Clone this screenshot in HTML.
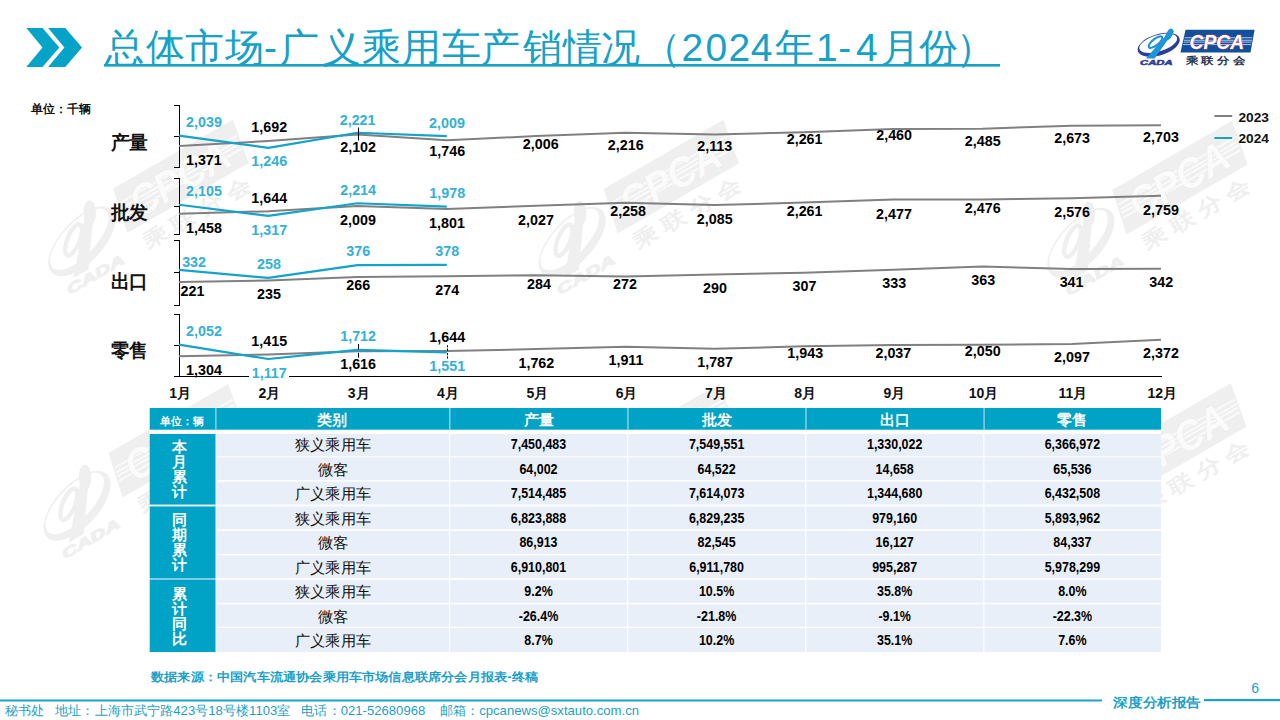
<!DOCTYPE html>
<html><head><meta charset="utf-8"><title>slide</title>
<style>
html,body{margin:0;padding:0;background:#fff;}
body{width:1280px;height:720px;overflow:hidden;position:relative;font-family:'Liberation Sans', sans-serif;}
svg{position:absolute;left:0;top:0;}
text{font-family:'Liberation Sans', sans-serif;}
</style></head><body>
<svg width="1280" height="720" viewBox="0 0 1280 720">

<g transform="translate(113.2,188.6) rotate(-30) scale(2.0)"><polygon points="0,0 69.1,0 65,22.8 -5,22.8" fill="#efefef"/><rect x="-0.94" y="7.50" width="67.81" height="0.9" fill="#fbfbfb"/><rect x="-1.49" y="10.00" width="67.91" height="0.9" fill="#fbfbfb"/><rect x="-1.90" y="11.85" width="67.99" height="0.9" fill="#fbfbfb"/><rect x="-2.45" y="14.35" width="68.08" height="0.9" fill="#fbfbfb"/><text x="4.1" y="19.4" font-size="21" font-style="italic" font-weight="bold" fill="#fbfbfb" stroke="#e6e6e6" stroke-width="0.35" paint-order="stroke" textLength="54.6" lengthAdjust="spacingAndGlyphs">CPCA</text><text x="0" y="34.6" font-size="10" font-weight="bold" fill="#efefef" textLength="60.4" lengthAdjust="spacingAndGlyphs" xml:space="preserve">乘 联 分 会</text><path fill-rule="evenodd" fill="#efefef" transform="translate(-26.8,15) rotate(-17)" d="M-21.8,0 A21.8,10.6 0 1,0 21.8,0 A21.8,10.6 0 1,0 -21.8,0 Z M-19.6,-1.6 A19.6,8.2 0 1,0 19.6,-1.6 A19.6,8.2 0 1,0 -19.6,-1.6 Z"/><polygon points="-39.5,28.8 -30.9,28.8 -11.8,1.8 -14.6,-0.4" fill="#efefef"/><ellipse cx="-30" cy="12.3" rx="8.3" ry="3.1" transform="rotate(-38 -30 12.3)" fill="none" stroke="#efefef" stroke-width="2.2"/><ellipse cx="-16.2" cy="4.6" rx="5.3" ry="2.2" transform="rotate(-62 -16.2 4.6)" fill="none" stroke="#efefef" stroke-width="1.8"/><text x="-45.4" y="35.1" font-size="6.8" font-weight="bold" font-style="italic" fill="#efefef" stroke="#efefef" stroke-width="0.5" textLength="32.5" lengthAdjust="spacingAndGlyphs">CADA</text></g>
<g transform="translate(603.6,188.9) rotate(-30) scale(2.0)"><polygon points="0,0 69.1,0 65,22.8 -5,22.8" fill="#efefef"/><rect x="-0.94" y="7.50" width="67.81" height="0.9" fill="#fbfbfb"/><rect x="-1.49" y="10.00" width="67.91" height="0.9" fill="#fbfbfb"/><rect x="-1.90" y="11.85" width="67.99" height="0.9" fill="#fbfbfb"/><rect x="-2.45" y="14.35" width="68.08" height="0.9" fill="#fbfbfb"/><text x="4.1" y="19.4" font-size="21" font-style="italic" font-weight="bold" fill="#fbfbfb" stroke="#e6e6e6" stroke-width="0.35" paint-order="stroke" textLength="54.6" lengthAdjust="spacingAndGlyphs">CPCA</text><text x="0" y="34.6" font-size="10" font-weight="bold" fill="#efefef" textLength="60.4" lengthAdjust="spacingAndGlyphs" xml:space="preserve">乘 联 分 会</text><path fill-rule="evenodd" fill="#efefef" transform="translate(-26.8,15) rotate(-17)" d="M-21.8,0 A21.8,10.6 0 1,0 21.8,0 A21.8,10.6 0 1,0 -21.8,0 Z M-19.6,-1.6 A19.6,8.2 0 1,0 19.6,-1.6 A19.6,8.2 0 1,0 -19.6,-1.6 Z"/><polygon points="-39.5,28.8 -30.9,28.8 -11.8,1.8 -14.6,-0.4" fill="#efefef"/><ellipse cx="-30" cy="12.3" rx="8.3" ry="3.1" transform="rotate(-38 -30 12.3)" fill="none" stroke="#efefef" stroke-width="2.2"/><ellipse cx="-16.2" cy="4.6" rx="5.3" ry="2.2" transform="rotate(-62 -16.2 4.6)" fill="none" stroke="#efefef" stroke-width="1.8"/><text x="-45.4" y="35.1" font-size="6.8" font-weight="bold" font-style="italic" fill="#efefef" stroke="#efefef" stroke-width="0.5" textLength="32.5" lengthAdjust="spacingAndGlyphs">CADA</text></g>
<g transform="translate(1112.3,189.9) rotate(-30) scale(2.0)"><polygon points="0,0 69.1,0 65,22.8 -5,22.8" fill="#efefef"/><rect x="-0.94" y="7.50" width="67.81" height="0.9" fill="#fbfbfb"/><rect x="-1.49" y="10.00" width="67.91" height="0.9" fill="#fbfbfb"/><rect x="-1.90" y="11.85" width="67.99" height="0.9" fill="#fbfbfb"/><rect x="-2.45" y="14.35" width="68.08" height="0.9" fill="#fbfbfb"/><text x="4.1" y="19.4" font-size="21" font-style="italic" font-weight="bold" fill="#fbfbfb" stroke="#e6e6e6" stroke-width="0.35" paint-order="stroke" textLength="54.6" lengthAdjust="spacingAndGlyphs">CPCA</text><text x="0" y="34.6" font-size="10" font-weight="bold" fill="#efefef" textLength="60.4" lengthAdjust="spacingAndGlyphs" xml:space="preserve">乘 联 分 会</text><path fill-rule="evenodd" fill="#efefef" transform="translate(-26.8,15) rotate(-17)" d="M-21.8,0 A21.8,10.6 0 1,0 21.8,0 A21.8,10.6 0 1,0 -21.8,0 Z M-19.6,-1.6 A19.6,8.2 0 1,0 19.6,-1.6 A19.6,8.2 0 1,0 -19.6,-1.6 Z"/><polygon points="-39.5,28.8 -30.9,28.8 -11.8,1.8 -14.6,-0.4" fill="#efefef"/><ellipse cx="-30" cy="12.3" rx="8.3" ry="3.1" transform="rotate(-38 -30 12.3)" fill="none" stroke="#efefef" stroke-width="2.2"/><ellipse cx="-16.2" cy="4.6" rx="5.3" ry="2.2" transform="rotate(-62 -16.2 4.6)" fill="none" stroke="#efefef" stroke-width="1.8"/><text x="-45.4" y="35.1" font-size="6.8" font-weight="bold" font-style="italic" fill="#efefef" stroke="#efefef" stroke-width="0.5" textLength="32.5" lengthAdjust="spacingAndGlyphs">CADA</text></g>
<g transform="translate(108.5,453) rotate(-30) scale(2.0)"><polygon points="0,0 69.1,0 65,22.8 -5,22.8" fill="#efefef"/><rect x="-0.94" y="7.50" width="67.81" height="0.9" fill="#fbfbfb"/><rect x="-1.49" y="10.00" width="67.91" height="0.9" fill="#fbfbfb"/><rect x="-1.90" y="11.85" width="67.99" height="0.9" fill="#fbfbfb"/><rect x="-2.45" y="14.35" width="68.08" height="0.9" fill="#fbfbfb"/><text x="4.1" y="19.4" font-size="21" font-style="italic" font-weight="bold" fill="#fbfbfb" stroke="#e6e6e6" stroke-width="0.35" paint-order="stroke" textLength="54.6" lengthAdjust="spacingAndGlyphs">CPCA</text><text x="0" y="34.6" font-size="10" font-weight="bold" fill="#efefef" textLength="60.4" lengthAdjust="spacingAndGlyphs" xml:space="preserve">乘 联 分 会</text><path fill-rule="evenodd" fill="#efefef" transform="translate(-26.8,15) rotate(-17)" d="M-21.8,0 A21.8,10.6 0 1,0 21.8,0 A21.8,10.6 0 1,0 -21.8,0 Z M-19.6,-1.6 A19.6,8.2 0 1,0 19.6,-1.6 A19.6,8.2 0 1,0 -19.6,-1.6 Z"/><polygon points="-39.5,28.8 -30.9,28.8 -11.8,1.8 -14.6,-0.4" fill="#efefef"/><ellipse cx="-30" cy="12.3" rx="8.3" ry="3.1" transform="rotate(-38 -30 12.3)" fill="none" stroke="#efefef" stroke-width="2.2"/><ellipse cx="-16.2" cy="4.6" rx="5.3" ry="2.2" transform="rotate(-62 -16.2 4.6)" fill="none" stroke="#efefef" stroke-width="1.8"/><text x="-45.4" y="35.1" font-size="6.8" font-weight="bold" font-style="italic" fill="#efefef" stroke="#efefef" stroke-width="0.5" textLength="32.5" lengthAdjust="spacingAndGlyphs">CADA</text></g>
<g transform="translate(600,452.5) rotate(-30) scale(2.0)"><polygon points="0,0 69.1,0 65,22.8 -5,22.8" fill="#efefef"/><rect x="-0.94" y="7.50" width="67.81" height="0.9" fill="#fbfbfb"/><rect x="-1.49" y="10.00" width="67.91" height="0.9" fill="#fbfbfb"/><rect x="-1.90" y="11.85" width="67.99" height="0.9" fill="#fbfbfb"/><rect x="-2.45" y="14.35" width="68.08" height="0.9" fill="#fbfbfb"/><text x="4.1" y="19.4" font-size="21" font-style="italic" font-weight="bold" fill="#fbfbfb" stroke="#e6e6e6" stroke-width="0.35" paint-order="stroke" textLength="54.6" lengthAdjust="spacingAndGlyphs">CPCA</text><text x="0" y="34.6" font-size="10" font-weight="bold" fill="#efefef" textLength="60.4" lengthAdjust="spacingAndGlyphs" xml:space="preserve">乘 联 分 会</text><path fill-rule="evenodd" fill="#efefef" transform="translate(-26.8,15) rotate(-17)" d="M-21.8,0 A21.8,10.6 0 1,0 21.8,0 A21.8,10.6 0 1,0 -21.8,0 Z M-19.6,-1.6 A19.6,8.2 0 1,0 19.6,-1.6 A19.6,8.2 0 1,0 -19.6,-1.6 Z"/><polygon points="-39.5,28.8 -30.9,28.8 -11.8,1.8 -14.6,-0.4" fill="#efefef"/><ellipse cx="-30" cy="12.3" rx="8.3" ry="3.1" transform="rotate(-38 -30 12.3)" fill="none" stroke="#efefef" stroke-width="2.2"/><ellipse cx="-16.2" cy="4.6" rx="5.3" ry="2.2" transform="rotate(-62 -16.2 4.6)" fill="none" stroke="#efefef" stroke-width="1.8"/><text x="-45.4" y="35.1" font-size="6.8" font-weight="bold" font-style="italic" fill="#efefef" stroke="#efefef" stroke-width="0.5" textLength="32.5" lengthAdjust="spacingAndGlyphs">CADA</text></g>
<g transform="translate(1111.1,452.3) rotate(-30) scale(2.0)"><polygon points="0,0 69.1,0 65,22.8 -5,22.8" fill="#efefef"/><rect x="-0.94" y="7.50" width="67.81" height="0.9" fill="#fbfbfb"/><rect x="-1.49" y="10.00" width="67.91" height="0.9" fill="#fbfbfb"/><rect x="-1.90" y="11.85" width="67.99" height="0.9" fill="#fbfbfb"/><rect x="-2.45" y="14.35" width="68.08" height="0.9" fill="#fbfbfb"/><text x="4.1" y="19.4" font-size="21" font-style="italic" font-weight="bold" fill="#fbfbfb" stroke="#e6e6e6" stroke-width="0.35" paint-order="stroke" textLength="54.6" lengthAdjust="spacingAndGlyphs">CPCA</text><text x="0" y="34.6" font-size="10" font-weight="bold" fill="#efefef" textLength="60.4" lengthAdjust="spacingAndGlyphs" xml:space="preserve">乘 联 分 会</text><path fill-rule="evenodd" fill="#efefef" transform="translate(-26.8,15) rotate(-17)" d="M-21.8,0 A21.8,10.6 0 1,0 21.8,0 A21.8,10.6 0 1,0 -21.8,0 Z M-19.6,-1.6 A19.6,8.2 0 1,0 19.6,-1.6 A19.6,8.2 0 1,0 -19.6,-1.6 Z"/><polygon points="-39.5,28.8 -30.9,28.8 -11.8,1.8 -14.6,-0.4" fill="#efefef"/><ellipse cx="-30" cy="12.3" rx="8.3" ry="3.1" transform="rotate(-38 -30 12.3)" fill="none" stroke="#efefef" stroke-width="2.2"/><ellipse cx="-16.2" cy="4.6" rx="5.3" ry="2.2" transform="rotate(-62 -16.2 4.6)" fill="none" stroke="#efefef" stroke-width="1.8"/><text x="-45.4" y="35.1" font-size="6.8" font-weight="bold" font-style="italic" fill="#efefef" stroke="#efefef" stroke-width="0.5" textLength="32.5" lengthAdjust="spacingAndGlyphs">CADA</text></g>
<polygon points="26.3,28 42.5,28 59.3,47.5 42.5,66.9 26.3,66.9 42.5,47.5" fill="#05a3c7"/>
<polygon points="48.1,28 65.3,28 82,47.5 65.3,66.9 48.1,66.9 64.4,47.5" fill="#05a3c7"/>
<text x="105.45 145.7 185.45 225.4 264.05 280.35 321.6 361.5 402.0 441.75 481.25 522.5 563.0 601.0 642.15 681.4 705.6 728.4 750.85 774.5 816.0 838.25 856.05 880.85 919.0 955.5" y="60.6" font-size="39" fill="#16a1c6">总体市场-广义乘用车产销情况（2024年1-4月份）</text>
<rect x="104" y="64" width="896" height="2.6" fill="#16a1c6"/>
<g transform="translate(1185.5,29.8)"><polygon points="0,0 69.1,0 65,22.8 -5,22.8" fill="#12509e"/><rect x="-0.94" y="7.50" width="67.81" height="0.9" fill="#bcd0ea"/><rect x="-1.49" y="10.00" width="67.91" height="0.9" fill="#bcd0ea"/><rect x="-1.90" y="11.85" width="67.99" height="0.9" fill="#bcd0ea"/><rect x="-2.45" y="14.35" width="68.08" height="0.9" fill="#bcd0ea"/><text x="4.1" y="19.4" font-size="21" font-style="italic" font-weight="bold" fill="#ffffff" stroke="#d8404c" stroke-width="0.8" paint-order="stroke" textLength="54.6" lengthAdjust="spacingAndGlyphs">CPCA</text><text x="0" y="34.6" font-size="10" font-weight="bold" fill="#2b3550" textLength="60.4" lengthAdjust="spacingAndGlyphs" xml:space="preserve">乘 联 分 会</text><path fill-rule="evenodd" fill="#2e3d9c" transform="translate(-26.8,15) rotate(-17)" d="M-21.8,0 A21.8,10.6 0 1,0 21.8,0 A21.8,10.6 0 1,0 -21.8,0 Z M-19.6,-1.6 A19.6,8.2 0 1,0 19.6,-1.6 A19.6,8.2 0 1,0 -19.6,-1.6 Z"/><polygon points="-39.5,28.8 -30.9,28.8 -11.8,1.8 -14.6,-0.4" fill="#1f95d8"/><ellipse cx="-30" cy="12.3" rx="8.3" ry="3.1" transform="rotate(-38 -30 12.3)" fill="none" stroke="#1f95d8" stroke-width="2.2"/><ellipse cx="-16.2" cy="4.6" rx="5.3" ry="2.2" transform="rotate(-62 -16.2 4.6)" fill="none" stroke="#1f95d8" stroke-width="1.8"/><text x="-45.4" y="35.1" font-size="6.8" font-weight="bold" font-style="italic" fill="#2e3d9c" stroke="#2e3d9c" stroke-width="0.5" textLength="32.5" lengthAdjust="spacingAndGlyphs">CADA</text></g>
<text x="31" y="112.6" font-size="11.5" font-weight="bold" fill="#111" textLength="60" lengthAdjust="spacingAndGlyphs">单位：千辆</text>
<text x="110.5" y="149.4" font-size="19" font-weight="bold" fill="#111" textLength="37.5" lengthAdjust="spacingAndGlyphs">产量</text>
<text x="110.5" y="219.20000000000002" font-size="19" font-weight="bold" fill="#111" textLength="37.5" lengthAdjust="spacingAndGlyphs">批发</text>
<text x="110.5" y="288.0" font-size="19" font-weight="bold" fill="#111" textLength="37.5" lengthAdjust="spacingAndGlyphs">出口</text>
<text x="110.5" y="356.79999999999995" font-size="19" font-weight="bold" fill="#111" textLength="37.5" lengthAdjust="spacingAndGlyphs">零售</text>
<g stroke="#000" stroke-width="1" fill="none" shape-rendering="crispEdges">
<path d="M179.5,105.2 V167.2"/>
<path d="M174,105.2 H179.5"/>
<path d="M174,136.2 H179.5"/>
<path d="M174,167.2 H179.5"/>
</g>
<g stroke="#000" stroke-width="1" fill="none" shape-rendering="crispEdges">
<path d="M179.5,178.3 V234.2"/>
<path d="M174,178.3 H179.5"/>
<path d="M174,206.25 H179.5"/>
<path d="M174,234.2 H179.5"/>
</g>
<g stroke="#000" stroke-width="1" fill="none" shape-rendering="crispEdges">
<path d="M179.5,240.2 V305.2"/>
<path d="M174,240.2 H179.5"/>
<path d="M174,272.7 H179.5"/>
<path d="M174,305.2 H179.5"/>
</g>
<g stroke="#000" stroke-width="1" fill="none" shape-rendering="crispEdges">
<path d="M179.5,314.7 V376.2"/>
<path d="M174,314.7 H179.5"/>
<path d="M174,345.45 H179.5"/>
</g>
<path d="M174,376.5 H1162" stroke="#000" stroke-width="1.1" fill="none"/>
<polyline points="179.00,145.95 268.27,140.97 357.54,134.62 446.81,140.14 536.08,136.11 625.35,132.85 714.62,134.45 803.89,132.15 893.16,129.07 982.43,128.68 1071.70,125.77 1160.97,125.30" fill="none" stroke="#808080" stroke-width="2" stroke-linejoin="round"/>
<polyline points="179.00,135.60 268.27,147.89 357.54,132.77 446.81,136.06" fill="none" stroke="#14a3cb" stroke-width="2.2" stroke-linejoin="round"/>
<polyline points="179.00,213.82 268.27,211.23 357.54,206.12 446.81,209.03 536.08,205.87 625.35,202.64 714.62,205.06 803.89,202.60 893.16,199.58 982.43,199.60 1071.70,198.20 1160.97,195.64" fill="none" stroke="#808080" stroke-width="2" stroke-linejoin="round"/>
<polyline points="179.00,204.78 268.27,215.79 357.54,203.26 446.81,206.56" fill="none" stroke="#14a3cb" stroke-width="2.2" stroke-linejoin="round"/>
<polyline points="179.00,281.96 268.27,280.44 357.54,277.08 446.81,276.22 536.08,275.13 625.35,276.43 714.62,274.48 803.89,272.64 893.16,269.82 982.43,266.57 1071.70,268.96 1160.97,268.85" fill="none" stroke="#808080" stroke-width="2" stroke-linejoin="round"/>
<polyline points="179.00,269.93 268.27,277.95 357.54,265.17 446.81,264.95" fill="none" stroke="#14a3cb" stroke-width="2.2" stroke-linejoin="round"/>
<polyline points="179.00,356.15 268.27,354.44 357.54,351.35 446.81,350.92 536.08,349.11 625.35,346.82 714.62,348.72 803.89,346.33 893.16,344.88 982.43,344.68 1071.70,343.96 1160.97,339.73" fill="none" stroke="#808080" stroke-width="2" stroke-linejoin="round"/>
<polyline points="179.00,344.65 268.27,359.03 357.54,349.88 446.81,352.35" fill="none" stroke="#14a3cb" stroke-width="2.2" stroke-linejoin="round"/>
<g stroke="#000" stroke-width="1" fill="none">
<path d="M358.5,127.5 V140.5"/>
<path d="M358.5,344 V349.3 M358.5,352.8 V357.7"/>
<path d="M447.5,345.2 V351 M447.5,353 V358.6" stroke-dasharray="2.2,1.2"/>
</g>
<rect x="249" y="366" width="40" height="13" fill="#fff"/>
<g font-size="14.3" font-weight="bold" text-anchor="middle">
<text x="204" y="127" fill="#33b1d6">2,039</text>
<text x="269.25" y="132" fill="#000">1,692</text>
<text x="357.6" y="125" fill="#33b1d6">2,221</text>
<text x="447" y="128" fill="#33b1d6">2,009</text>
<text x="203.9" y="164.5" fill="#000">1,371</text>
<text x="269.25" y="166.25" fill="#33b1d6">1,246</text>
<text x="358.1" y="152" fill="#000">2,102</text>
<text x="447.25" y="156.25" fill="#000">1,746</text>
<text x="540.75" y="149" fill="#000">2,006</text>
<text x="625.75" y="150" fill="#000">2,216</text>
<text x="714.75" y="151.25" fill="#000">2,113</text>
<text x="804.6" y="143.75" fill="#000">2,261</text>
<text x="894.1" y="139.5" fill="#000">2,460</text>
<text x="982.75" y="145.5" fill="#000">2,485</text>
<text x="1072.1" y="142.6" fill="#000">2,673</text>
<text x="1161" y="141.6" fill="#000">2,703</text>
<text x="204" y="196.25" fill="#33b1d6">2,105</text>
<text x="269.25" y="203" fill="#000">1,644</text>
<text x="358.1" y="194.5" fill="#33b1d6">2,214</text>
<text x="447.25" y="197.5" fill="#33b1d6">1,978</text>
<text x="204" y="233" fill="#000">1,458</text>
<text x="269.25" y="234.5" fill="#33b1d6">1,317</text>
<text x="358" y="224.5" fill="#000">2,009</text>
<text x="447" y="228" fill="#000">1,801</text>
<text x="536" y="225" fill="#000">2,027</text>
<text x="628.1" y="215.75" fill="#000">2,258</text>
<text x="714.75" y="224" fill="#000">2,085</text>
<text x="804.6" y="215.75" fill="#000">2,261</text>
<text x="894" y="218.75" fill="#000">2,477</text>
<text x="982.75" y="213" fill="#000">2,476</text>
<text x="1072.1" y="216.8" fill="#000">2,576</text>
<text x="1161" y="214.75" fill="#000">2,759</text>
<text x="194.1" y="266.75" fill="#33b1d6">332</text>
<text x="269" y="268.75" fill="#33b1d6">258</text>
<text x="358.25" y="255.75" fill="#33b1d6">376</text>
<text x="447.25" y="255.75" fill="#33b1d6">378</text>
<text x="192.5" y="296.25" fill="#000">221</text>
<text x="269" y="298.75" fill="#000">235</text>
<text x="358.25" y="290" fill="#000">266</text>
<text x="447.25" y="295" fill="#000">274</text>
<text x="539" y="289" fill="#000">284</text>
<text x="625" y="289" fill="#000">272</text>
<text x="715" y="293" fill="#000">290</text>
<text x="804.5" y="290.75" fill="#000">307</text>
<text x="894.25" y="288" fill="#000">333</text>
<text x="983.25" y="285" fill="#000">363</text>
<text x="1071.6" y="287" fill="#000">341</text>
<text x="1161.3" y="286.7" fill="#000">342</text>
<text x="204" y="335.5" fill="#33b1d6">2,052</text>
<text x="269.25" y="345.5" fill="#000">1,415</text>
<text x="358.1" y="340.75" fill="#33b1d6">1,712</text>
<text x="447.25" y="341.75" fill="#000">1,644</text>
<text x="204" y="374.5" fill="#000">1,304</text>
<text x="269.25" y="377.5" fill="#33b1d6">1,117</text>
<text x="358.1" y="369.25" fill="#000">1,616</text>
<text x="447.25" y="370.5" fill="#33b1d6">1,551</text>
<text x="536.4" y="367.5" fill="#000">1,762</text>
<text x="626" y="365" fill="#000">1,911</text>
<text x="715.1" y="366.75" fill="#000">1,787</text>
<text x="805.25" y="358.25" fill="#000">1,943</text>
<text x="893.4" y="357.5" fill="#000">2,037</text>
<text x="982.75" y="356.25" fill="#000">2,050</text>
<text x="1072" y="362" fill="#000">2,097</text>
<text x="1161" y="357.8" fill="#000">2,372</text>
</g>
<g font-size="14" font-weight="bold" text-anchor="middle" fill="#111">
<text x="180.20" y="397.6">1月</text>
<text x="269.47" y="397.6">2月</text>
<text x="358.74" y="397.6">3月</text>
<text x="448.01" y="397.6">4月</text>
<text x="537.28" y="397.6">5月</text>
<text x="626.55" y="397.6">6月</text>
<text x="715.82" y="397.6">7月</text>
<text x="805.09" y="397.6">8月</text>
<text x="894.36" y="397.6">9月</text>
<text x="983.63" y="397.6">10月</text>
<text x="1072.90" y="397.6">11月</text>
<text x="1162.17" y="397.6">12月</text>
</g>
<rect x="1214.4" y="115" width="17.8" height="2" fill="#808080"/>
<rect x="1214.4" y="137" width="17.8" height="2" fill="#14a3cb"/>
<g font-size="13.5" font-weight="bold" fill="#111">
<text x="1238.5" y="122.1" textLength="30.5" lengthAdjust="spacingAndGlyphs">2023</text>
<text x="1238.5" y="142.75" textLength="30.5" lengthAdjust="spacingAndGlyphs">2024</text>
</g>
<rect x="149.7" y="408" width="1011.3" height="244" fill="#fff"/>
<rect x="149.7" y="408" width="1011.3" height="21.7" fill="#00a3c5"/>
<rect x="215.1" y="408" width="1.5" height="21.7" fill="#86d0e2"/>
<rect x="449.0" y="408" width="1.5" height="21.7" fill="#86d0e2"/>
<rect x="627.2" y="408" width="1.5" height="21.7" fill="#86d0e2"/>
<rect x="805.2" y="408" width="1.5" height="21.7" fill="#86d0e2"/>
<rect x="983.35" y="408" width="1.5" height="21.7" fill="#86d0e2"/>
<rect x="216.5" y="434" width="944.5" height="22.30" fill="#e9eff8"/>
<rect x="216.5" y="457.4" width="944.5" height="22.70" fill="#e9eff8"/>
<rect x="216.5" y="481.7" width="944.5" height="22.90" fill="#e9eff8"/>
<rect x="216.5" y="506.4" width="944.5" height="22.90" fill="#e9eff8"/>
<rect x="216.5" y="531" width="944.5" height="22.90" fill="#e9eff8"/>
<rect x="216.5" y="555.3" width="944.5" height="22.70" fill="#e9eff8"/>
<rect x="216.5" y="580" width="944.5" height="22.90" fill="#e9eff8"/>
<rect x="216.5" y="604.3" width="944.5" height="22.40" fill="#e9eff8"/>
<rect x="216.5" y="628" width="944.5" height="24.00" fill="#e9eff8"/>
<rect x="448.9" y="434" width="1.2" height="218" fill="#fff"/>
<rect x="627.1" y="434" width="1.2" height="218" fill="#fff"/>
<rect x="805.1" y="434" width="1.2" height="218" fill="#fff"/>
<rect x="983.25" y="434" width="1.2" height="218" fill="#fff"/>
<rect x="149.7" y="434" width="65.80000000000001" height="70.60" fill="#00a3c5"/>
<rect x="149.7" y="506.4" width="65.80000000000001" height="71.60" fill="#00a3c5"/>
<rect x="149.7" y="580" width="65.80000000000001" height="72.00" fill="#00a3c5"/>
<rect x="149.7" y="578" width="65.80000000000001" height="2" fill="#7fcde0"/>
<g font-size="14.5" font-weight="bold" fill="#fff" text-anchor="middle">
<text x="179.5" y="452.10">本</text>
<text x="179.5" y="467.20">月</text>
<text x="179.5" y="482.30">累</text>
<text x="179.5" y="497.40">计</text>
<text x="179.5" y="525.00">同</text>
<text x="179.5" y="540.10">期</text>
<text x="179.5" y="555.20">累</text>
<text x="179.5" y="570.30">计</text>
<text x="179.5" y="598.80">累</text>
<text x="179.5" y="613.90">计</text>
<text x="179.5" y="629.00">同</text>
<text x="179.5" y="644.10">比</text>
</g>
<g font-weight="bold" fill="#fff" text-anchor="middle">
<text x="182" y="424.8" font-size="10.5" textLength="43.5" lengthAdjust="spacingAndGlyphs">单位：辆</text>
<text x="332.45" y="425.4" font-size="14.5">类别</text>
<text x="538.50" y="425.4" font-size="14.5">产量</text>
<text x="716.60" y="425.4" font-size="14.5">批发</text>
<text x="894.67" y="425.4" font-size="14.5">出口</text>
<text x="1072.38" y="425.4" font-size="14.5">零售</text>
</g>
<text x="333.05" y="450.10" font-size="15" fill="#111" text-anchor="middle" textLength="76" lengthAdjust="spacingAndGlyphs">狭义乘用车</text>
<text transform="translate(538.50,448.9) scale(0.89,1)" x="0" y="0" font-size="14" font-weight="bold" fill="#000" text-anchor="middle">7,450,483</text>
<text transform="translate(716.60,448.9) scale(0.89,1)" x="0" y="0" font-size="14" font-weight="bold" fill="#000" text-anchor="middle">7,549,551</text>
<text transform="translate(894.67,448.9) scale(0.89,1)" x="0" y="0" font-size="14" font-weight="bold" fill="#000" text-anchor="middle">1,330,022</text>
<text transform="translate(1072.38,448.9) scale(0.89,1)" x="0" y="0" font-size="14" font-weight="bold" fill="#000" text-anchor="middle">6,366,972</text>
<text x="333.05" y="475.10" font-size="15" fill="#111" text-anchor="middle" textLength="31" lengthAdjust="spacingAndGlyphs">微客</text>
<text transform="translate(538.50,473.9) scale(0.89,1)" x="0" y="0" font-size="14" font-weight="bold" fill="#000" text-anchor="middle">64,002</text>
<text transform="translate(716.60,473.9) scale(0.89,1)" x="0" y="0" font-size="14" font-weight="bold" fill="#000" text-anchor="middle">64,522</text>
<text transform="translate(894.67,473.9) scale(0.89,1)" x="0" y="0" font-size="14" font-weight="bold" fill="#000" text-anchor="middle">14,658</text>
<text transform="translate(1072.38,473.9) scale(0.89,1)" x="0" y="0" font-size="14" font-weight="bold" fill="#000" text-anchor="middle">65,536</text>
<text x="333.05" y="499.00" font-size="15" fill="#111" text-anchor="middle" textLength="76" lengthAdjust="spacingAndGlyphs">广义乘用车</text>
<text transform="translate(538.50,497.8) scale(0.89,1)" x="0" y="0" font-size="14" font-weight="bold" fill="#000" text-anchor="middle">7,514,485</text>
<text transform="translate(716.60,497.8) scale(0.89,1)" x="0" y="0" font-size="14" font-weight="bold" fill="#000" text-anchor="middle">7,614,073</text>
<text transform="translate(894.67,497.8) scale(0.89,1)" x="0" y="0" font-size="14" font-weight="bold" fill="#000" text-anchor="middle">1,344,680</text>
<text transform="translate(1072.38,497.8) scale(0.89,1)" x="0" y="0" font-size="14" font-weight="bold" fill="#000" text-anchor="middle">6,432,508</text>
<text x="333.05" y="524.00" font-size="15" fill="#111" text-anchor="middle" textLength="76" lengthAdjust="spacingAndGlyphs">狭义乘用车</text>
<text transform="translate(538.50,522.8) scale(0.89,1)" x="0" y="0" font-size="14" font-weight="bold" fill="#000" text-anchor="middle">6,823,888</text>
<text transform="translate(716.60,522.8) scale(0.89,1)" x="0" y="0" font-size="14" font-weight="bold" fill="#000" text-anchor="middle">6,829,235</text>
<text transform="translate(894.67,522.8) scale(0.89,1)" x="0" y="0" font-size="14" font-weight="bold" fill="#000" text-anchor="middle">979,160</text>
<text transform="translate(1072.38,522.8) scale(0.89,1)" x="0" y="0" font-size="14" font-weight="bold" fill="#000" text-anchor="middle">5,893,962</text>
<text x="333.05" y="547.90" font-size="15" fill="#111" text-anchor="middle" textLength="31" lengthAdjust="spacingAndGlyphs">微客</text>
<text transform="translate(538.50,546.7) scale(0.89,1)" x="0" y="0" font-size="14" font-weight="bold" fill="#000" text-anchor="middle">86,913</text>
<text transform="translate(716.60,546.7) scale(0.89,1)" x="0" y="0" font-size="14" font-weight="bold" fill="#000" text-anchor="middle">82,545</text>
<text transform="translate(894.67,546.7) scale(0.89,1)" x="0" y="0" font-size="14" font-weight="bold" fill="#000" text-anchor="middle">16,127</text>
<text transform="translate(1072.38,546.7) scale(0.89,1)" x="0" y="0" font-size="14" font-weight="bold" fill="#000" text-anchor="middle">84,337</text>
<text x="333.05" y="573.00" font-size="15" fill="#111" text-anchor="middle" textLength="76" lengthAdjust="spacingAndGlyphs">广义乘用车</text>
<text transform="translate(538.50,571.8) scale(0.89,1)" x="0" y="0" font-size="14" font-weight="bold" fill="#000" text-anchor="middle">6,910,801</text>
<text transform="translate(716.60,571.8) scale(0.89,1)" x="0" y="0" font-size="14" font-weight="bold" fill="#000" text-anchor="middle">6,911,780</text>
<text transform="translate(894.67,571.8) scale(0.89,1)" x="0" y="0" font-size="14" font-weight="bold" fill="#000" text-anchor="middle">995,287</text>
<text transform="translate(1072.38,571.8) scale(0.89,1)" x="0" y="0" font-size="14" font-weight="bold" fill="#000" text-anchor="middle">5,978,299</text>
<text x="333.05" y="597.00" font-size="15" fill="#111" text-anchor="middle" textLength="76" lengthAdjust="spacingAndGlyphs">狭义乘用车</text>
<text transform="translate(538.50,595.8) scale(0.89,1)" x="0" y="0" font-size="14" font-weight="bold" fill="#000" text-anchor="middle">9.2%</text>
<text transform="translate(716.60,595.8) scale(0.89,1)" x="0" y="0" font-size="14" font-weight="bold" fill="#000" text-anchor="middle">10.5%</text>
<text transform="translate(894.67,595.8) scale(0.89,1)" x="0" y="0" font-size="14" font-weight="bold" fill="#000" text-anchor="middle">35.8%</text>
<text transform="translate(1072.38,595.8) scale(0.89,1)" x="0" y="0" font-size="14" font-weight="bold" fill="#000" text-anchor="middle">8.0%</text>
<text x="333.05" y="621.90" font-size="15" fill="#111" text-anchor="middle" textLength="31" lengthAdjust="spacingAndGlyphs">微客</text>
<text transform="translate(538.50,620.7) scale(0.89,1)" x="0" y="0" font-size="14" font-weight="bold" fill="#000" text-anchor="middle">-26.4%</text>
<text transform="translate(716.60,620.7) scale(0.89,1)" x="0" y="0" font-size="14" font-weight="bold" fill="#000" text-anchor="middle">-21.8%</text>
<text transform="translate(894.67,620.7) scale(0.89,1)" x="0" y="0" font-size="14" font-weight="bold" fill="#000" text-anchor="middle">-9.1%</text>
<text transform="translate(1072.38,620.7) scale(0.89,1)" x="0" y="0" font-size="14" font-weight="bold" fill="#000" text-anchor="middle">-22.3%</text>
<text x="333.05" y="645.90" font-size="15" fill="#111" text-anchor="middle" textLength="76" lengthAdjust="spacingAndGlyphs">广义乘用车</text>
<text transform="translate(538.50,644.7) scale(0.89,1)" x="0" y="0" font-size="14" font-weight="bold" fill="#000" text-anchor="middle">8.7%</text>
<text transform="translate(716.60,644.7) scale(0.89,1)" x="0" y="0" font-size="14" font-weight="bold" fill="#000" text-anchor="middle">10.2%</text>
<text transform="translate(894.67,644.7) scale(0.89,1)" x="0" y="0" font-size="14" font-weight="bold" fill="#000" text-anchor="middle">35.1%</text>
<text transform="translate(1072.38,644.7) scale(0.89,1)" x="0" y="0" font-size="14" font-weight="bold" fill="#000" text-anchor="middle">7.6%</text>
<text x="151" y="681" font-size="12" font-weight="bold" fill="#1e9fc7" textLength="387" lengthAdjust="spacingAndGlyphs">数据来源：中国汽车流通协会乘用车市场信息联席分会月报表-终稿</text>
<rect x="0" y="699.5" width="1102" height="2" fill="#1aa3c9"/>
<rect x="1204" y="699" width="76" height="2.2" fill="#1aa3c9"/>
<text x="1113.3" y="706.8" font-size="12.6" font-weight="bold" fill="#1e9fc7" font-family="Liberation Serif, serif" textLength="87.7" lengthAdjust="spacingAndGlyphs">深度分析报告</text>
<text x="1251.3" y="692.7" font-size="14" fill="#1e9fc7">6</text>
<text x="5" y="714.5" font-size="13" fill="#1e9fc7" textLength="634" lengthAdjust="spacingAndGlyphs" xml:space="preserve">秘书处   地址：上海市武宁路423号18号楼1103室   电话：021-52680968    邮箱：cpcanews@sxtauto.com.cn</text>
</svg></body></html>
